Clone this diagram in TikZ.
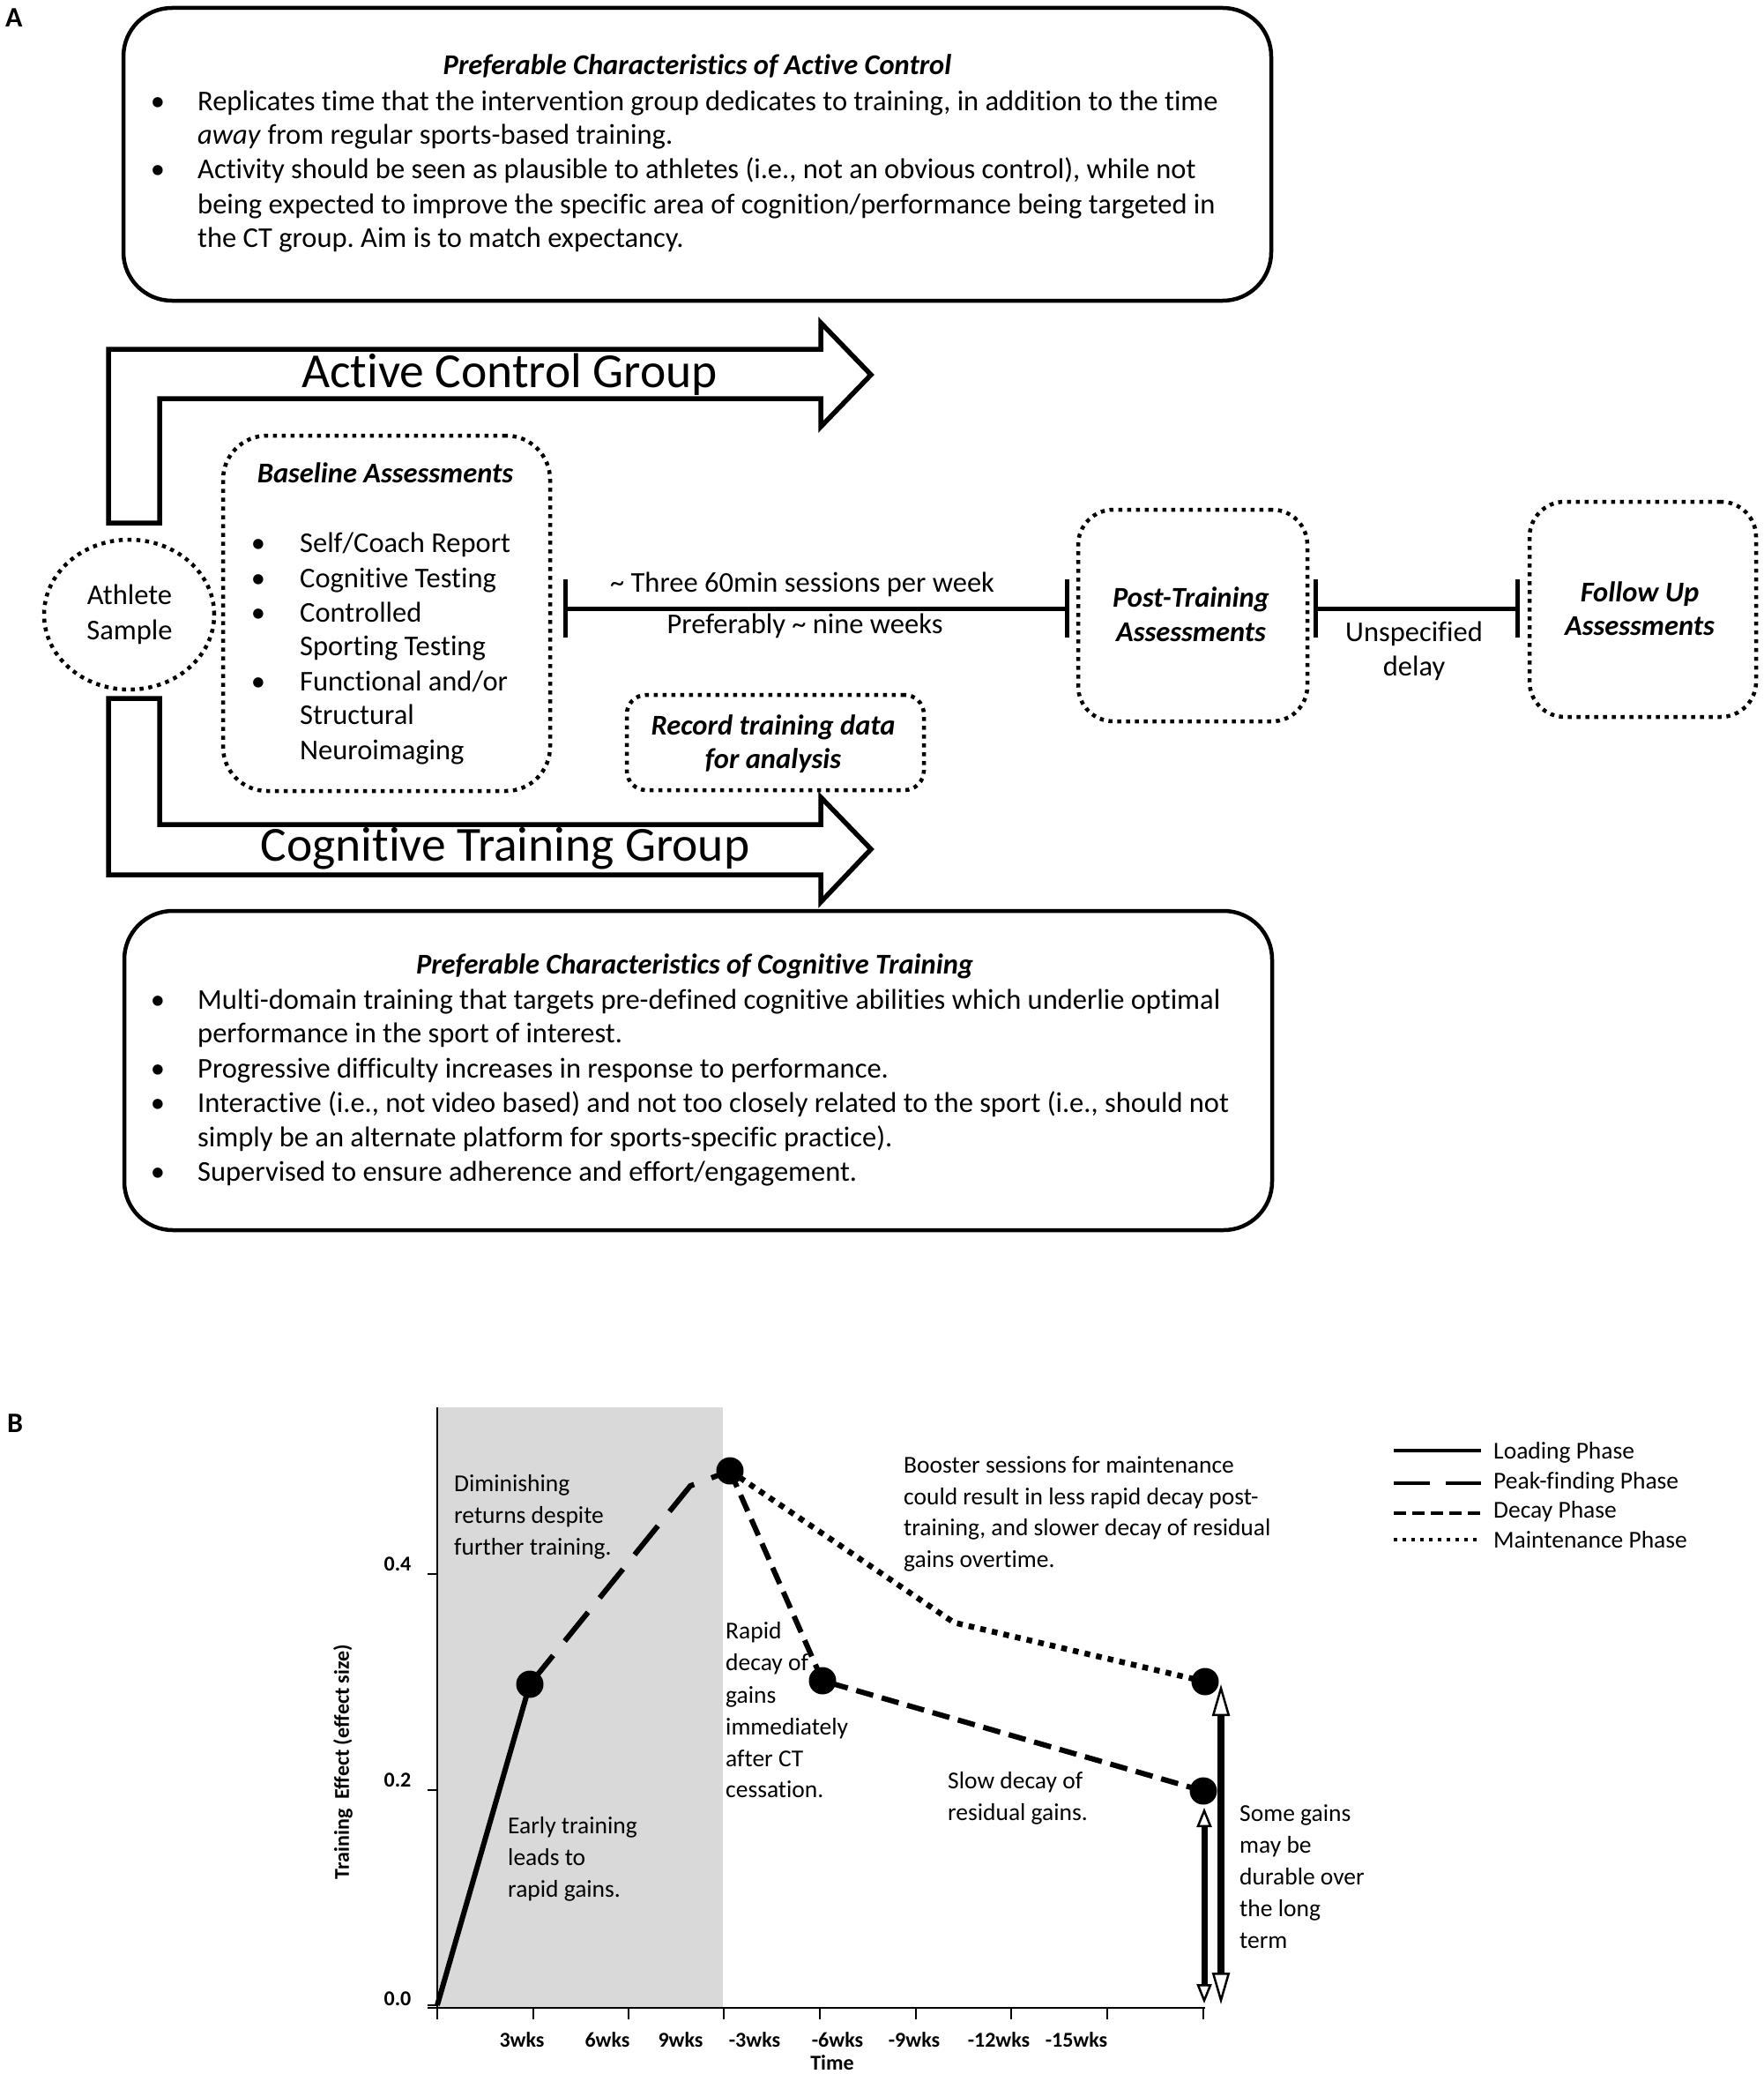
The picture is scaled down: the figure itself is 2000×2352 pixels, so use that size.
\documentclass[tikz,border=0pt]{standalone}
\usepackage{fontspec}
\setmainfont{Carlito}[Ligatures={NoCommon}]
\usetikzlibrary{arrows.meta,shapes.geometric}
\definecolor{bggray}{HTML}{D9D9D9}
\frenchspacing
\begin{document}
\begin{tikzpicture}[x=1pt,y=-1pt,
  lt/.style={inner sep=0pt, anchor=base west},
  ct/.style={inner sep=0pt, anchor=base},
  fA/.style={font=\fontsize{32.5}{39}\selectfont},
  fAt/.style={font=\fontsize{32.5}{39}\selectfont\bfseries\itshape},
  fG/.style={font=\fontsize{55.5}{60}\selectfont},
  fB/.style={font=\fontsize{27.5}{33}\selectfont},
  fax/.style={font=\fontsize{24}{28}\selectfont\bfseries},
  panel/.style={font=\fontsize{32}{38}\selectfont\bfseries},
  bigbox/.style={draw, line width=4.5pt, rounded corners=55pt, inner sep=0pt},
  dotbox/.style={draw, line width=4.5pt, dash pattern=on 4.5pt off 5.5pt, inner sep=0pt},
  blockarrow/.style={draw, line width=5.5pt, line join=miter},
  tline/.style={line width=5pt},
  datadot/.style={circle, fill=black, inner sep=0pt, minimum size=31pt},
  loading/.style={line width=6pt},
  peakph/.style={line width=6pt, dash pattern=on 42pt off 21pt},
  decayph/.style={line width=6pt, dash pattern=on 20pt off 10pt},
  maintph/.style={line width=6.5pt, dash pattern=on 6.5pt off 7pt},
  axisline/.style={line width=2.5pt},
]
\useasboundingbox (0,0) rectangle (2000,2352);

% panel labels
\node[lt,panel] (labA) at (6,31) {A};
\node[lt,panel] (labB) at (8,1624) {B};

% ---------- top box ----------
\node[bigbox, minimum width=1302pt, minimum height=332pt] (acbox) at (791,175) {};
\node[ct,fAt] (act) at (791,85) {Preferable Characteristics of Active Control};
\node[ct,fA] (acb1) at (179,126) {\textbullet};
\node[lt,fA] (ac1a) at (224,126) {Replicates time that the intervention group dedicates to training, in addition to the time};
\node[lt,fA] (ac1b) at (224,164) {\textit{away} from regular sports-based training.};
\node[ct,fA] (acb2) at (179,203) {\textbullet};
\node[lt,fA] (ac2a) at (224,203) {Activity should be seen as plausible to athletes (i.e., not an obvious control), while not};
\node[lt,fA] (ac2b) at (224,242) {being expected to improve the specific area of cognition/performance being targeted in};
\node[lt,fA] (ac2c) at (224,280) {the CT group. Aim is to match expectancy.};

% ---------- block arrows ----------
\draw[blockarrow] (123,593) -- (123,396) -- (931,396) -- (931,366) -- (988,425) -- (931,484) -- (931,452) -- (181,452) -- (181,593) -- cycle;
\node[ct,fG] (acg) at (578,439) {Active Control Group};
\draw[blockarrow] (123,792) -- (181,792) -- (181,935) -- (931,935) -- (931,904) -- (988,963) -- (931,1023) -- (931,992) -- (123,992) -- cycle;
\node[ct,fG] (ctg) at (573,976) {Cognitive Training Group};

% ---------- athlete sample ----------
\node[dotbox, ellipse, minimum width=193pt, minimum height=170pt] (ath) at (146.5,697) {};
\node[ct,fA] (ath1) at (147,685) {Athlete};
\node[ct,fA] (ath2) at (147,725) {Sample};

% ---------- baseline box ----------
\node[dotbox, rounded corners=50pt, minimum width=371pt, minimum height=403pt] (base) at (438.5,695.5) {};
\node[ct,fAt] (bt) at (437,547) {Baseline Assessments};
\node[ct,fA] (bb1) at (293,626) {\textbullet};
\node[lt,fA] (bl1) at (340,626) {Self/Coach Report};
\node[ct,fA] (bb2) at (293,666) {\textbullet};
\node[lt,fA] (bl2) at (340,666) {Cognitive Testing};
\node[ct,fA] (bb3) at (293,705) {\textbullet};
\node[lt,fA] (bl3) at (340,705) {Controlled};
\node[lt,fA] (bl4) at (340,743) {Sporting Testing};
\node[ct,fA] (bb5) at (293,783) {\textbullet};
\node[lt,fA] (bl5) at (340,783) {Functional and/or};
\node[lt,fA] (bl6) at (340,821) {Structural};
\node[lt,fA] (bl7) at (340,861) {Neuroimaging};

% ---------- record box ----------
\node[dotbox, rounded corners=22pt, minimum width=337pt, minimum height=108pt] (rec) at (879.5,842) {};
\node[ct,fAt] (rec1) at (877,833) {Record training data};
\node[ct,fAt] (rec2) at (877,871) {for analysis};

% ---------- post / follow up ----------
\node[dotbox, rounded corners=40pt, minimum width=260pt, minimum height=240pt] (post) at (1353,698) {};
\node[ct,fAt] (post1) at (1351,688) {Post-Training};
\node[ct,fAt] (post2) at (1351,727) {Assessments};
\node[dotbox, rounded corners=40pt, minimum width=257pt, minimum height=244pt] (fol) at (1863.5,691) {};
\node[ct,fAt] (fol1) at (1860,682) {Follow Up};
\node[ct,fAt] (fol2) at (1860,720) {Assessments};

% ---------- connectors ----------
\coordinate (c1s) at (641,690);
\coordinate (c1e) at (1210,690);
\draw[tline] (c1s) -- (c1e);
\draw[tline] ([yshift=33pt]c1s) -- ([yshift=-33pt]c1s);
\draw[tline] ([yshift=33pt]c1e) -- ([yshift=-33pt]c1e);
\node[ct,fA] (sess) at (910,671) {\textasciitilde{} Three 60min sessions per week};
\node[ct,fA] (nine) at (913,718) {Preferably \textasciitilde{} nine weeks};
\coordinate (c2s) at (1492,690);
\coordinate (c2e) at (1721,690);
\draw[tline] (c2s) -- (c2e);
\draw[tline] ([yshift=33pt]c2s) -- ([yshift=-33pt]c2s);
\draw[tline] ([yshift=33pt]c2e) -- ([yshift=-33pt]c2e);
\node[ct,fA] (uns1) at (1604,727) {Unspecified};
\node[ct,fA] (uns2) at (1604,766) {delay};

% ---------- bottom box ----------
\node[bigbox, minimum width=1302pt, minimum height=362pt] (ctbox) at (792,1214) {};
\node[ct,fAt] (ctt) at (788,1104) {Preferable Characteristics of Cognitive Training};
\node[ct,fA] (ctb1) at (179,1144) {\textbullet};
\node[lt,fA] (ct1a) at (224,1144) {Multi-domain training that targets pre-defined cognitive abilities which underlie optimal};
\node[lt,fA] (ct1b) at (224,1182) {performance in the sport of interest.};
\node[ct,fA] (ctb2) at (179,1222) {\textbullet};
\node[lt,fA] (ct2a) at (224,1222) {Progressive difficulty increases in response to performance.};
\node[ct,fA] (ctb3) at (179,1261) {\textbullet};
\node[lt,fA] (ct3a) at (224,1261) {Interactive (i.e., not video based) and not too closely related to the sport (i.e., should not};
\node[lt,fA] (ct3b) at (224,1300) {simply be an alternate platform for sports-specific practice).};
\node[ct,fA] (ctb4) at (179,1339) {\textbullet};
\node[lt,fA] (ct4a) at (224,1339) {Supervised to ensure adherence and effort/engagement.};

% ================= PANEL B =================
\fill[bggray] (496,1596) rectangle (820,2277);
\draw[axisline] (496,1596) -- (496,2290);
\draw[axisline] (485,2277) -- (1367,2277);
\foreach \xx in {605,713,821,930,1039,1147,1256,1365} {\draw[axisline] (\xx,2277) -- (\xx,2290);}
\foreach \yy in {2274,2030,1785} {\draw[axisline] (485,\yy) -- (496,\yy);}
\node[ct,fax] (y0) at (451,2274) {0.0};
\node[ct,fax] (y2) at (451,2026) {0.2};
\node[ct,fax] (y4) at (451,1781) {0.4};
\node[ct,fax] (x1) at (592,2321) {3wks};
\node[ct,fax] (x2) at (689,2321) {6wks};
\node[ct,fax] (x3) at (772,2321) {9wks};
\node[ct,fax] (x4) at (856,2321) {-3wks};
\node[ct,fax] (x5) at (950,2321) {-6wks};
\node[ct,fax] (x6) at (1037,2321) {-9wks};
\node[ct,fax] (x7) at (1133,2321) {-12wks};
\node[ct,fax] (x8) at (1221,2321) {-15wks};
\node[ct,fax] (xt) at (944,2347) {Time};
\node[fax, inner sep=0pt, rotate=90] (ylab) at (389,1998) {Training\ \ Effect (effect size)};

% data points
\coordinate (o) at (496,2274);
\node[datadot] (p1) at (601,1910) {};
\node[datadot] (pk) at (828,1668) {};
\node[datadot] (p3) at (933,1906) {};
\node[datadot] (p4) at (1367,1907) {};
\node[datadot] (p5) at (1365,2031) {};
\coordinate (k1) at (783,1685);
\coordinate (k2) at (1082,1840);

\draw[loading] (o) -- (p1.center);
\draw[peakph] (p1.center) -- (k1) -- (pk.center);
\draw[decayph] (pk.center) -- (p3.center) -- (p5.center);
\draw[maintph] (pk.center) -- (k2) -- (p4.center);

% vertical arrows
\coordinate (a1t) at (1366,2050);
\coordinate (a1b) at (1366,2272);
\draw[line width=7pt, {Triangle[open,length=22pt,width=17pt,line width=2.5pt]}-{Triangle[open,length=22pt,width=17pt,line width=2.5pt]}] (a1t) -- (a1b);
\coordinate (a2t) at (1385,1910);
\coordinate (a2b) at (1385,2273);
\draw[line width=8pt, {Triangle[open,length=36pt,width=20pt,line width=2.5pt]}-{Triangle[open,length=36pt,width=20pt,line width=2.5pt]}] (a2t) -- (a2b);

% annotations
\node[lt,fB] (d1) at (515,1691) {Diminishing};
\node[lt,fB] (d2) at (515,1727) {returns despite};
\node[lt,fB] (d3) at (515,1763) {further training.};
\node[lt,fB] (e1) at (576,2079) {Early training};
\node[lt,fB] (e2) at (576,2115) {leads to};
\node[lt,fB] (e3) at (576,2151) {rapid gains.};
\node[lt,fB] (r1) at (823,1858) {Rapid};
\node[lt,fB] (r2) at (823,1894) {decay of};
\node[lt,fB] (r3) at (823,1931) {gains};
\node[lt,fB] (r4) at (823,1967) {immediately};
\node[lt,fB] (r5) at (823,2003) {after CT};
\node[lt,fB] (r6) at (823,2038) {cessation.};
\node[lt,fB] (b1) at (1025,1670) {Booster sessions for maintenance};
\node[lt,fB] (b2) at (1025,1706) {could result in less rapid decay post-};
\node[lt,fB] (b3) at (1025,1741) {training, and slower decay of residual};
\node[lt,fB] (b4) at (1025,1777) {gains overtime.};
\node[lt,fB] (s1) at (1075,2028) {Slow decay of};
\node[lt,fB] (s2) at (1075,2064) {residual gains.};
\node[lt,fB] (g1) at (1406,2065) {Some gains};
\node[lt,fB] (g2) at (1406,2101) {may be};
\node[lt,fB] (g3) at (1406,2137) {durable over};
\node[lt,fB] (g4) at (1406,2173) {the long};
\node[lt,fB] (g5) at (1406,2209) {term};

% legend
\coordinate (l1a) at (1581,1645); \coordinate (l1b) at (1680,1645);
\coordinate (l2a) at (1581,1682); \coordinate (l2b) at (1680,1682);
\coordinate (l3a) at (1581,1716); \coordinate (l3b) at (1680,1716);
\coordinate (l4a) at (1581,1746); \coordinate (l4b) at (1680,1746);
\draw[line width=4.5pt] (l1a) -- (l1b);
\draw[line width=4.5pt, dash pattern=on 41pt off 18pt] (l2a) -- (l2b);
\draw[line width=4.5pt, dash pattern=on 14pt off 7pt] (l3a) -- (l3b);
\draw[line width=4.5pt, dash pattern=on 4pt off 6pt] (l4a) -- (l4b);
\node[lt,fB] (lt1) at (1694,1654) {Loading Phase};
\node[lt,fB] (lt2) at (1694,1688) {Peak-finding Phase};
\node[lt,fB] (lt3) at (1694,1721) {Decay Phase};
\node[lt,fB] (lt4) at (1694,1755) {Maintenance Phase};
\end{tikzpicture}
\end{document}
